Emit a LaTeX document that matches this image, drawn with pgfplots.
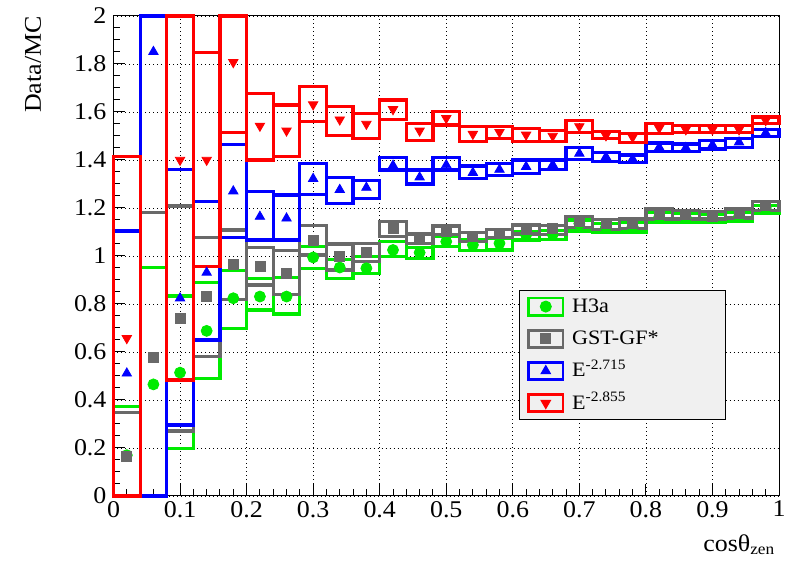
\documentclass[border=0pt]{standalone}
\usepackage{fontspec}
\setmainfont{Liberation Serif}[FakeStretch=1.08]
\usepackage{pgfplots}
\usepackage{pgfplotstable}
\pgfplotsset{compat=1.18}

\definecolor{cGreen}{RGB}{0,235,0}
\definecolor{cGray}{RGB}{105,105,105}
\definecolor{cBlue}{RGB}{0,0,255}
\definecolor{cRed}{RGB}{255,0,0}
\definecolor{legendbg}{RGB}{240,240,240}

% bin centre, lower and upper edge of the systematic box, data/MC value
\pgfplotstableread{
x lo hi val
0.02 0 0.372 0.17
0.06 0 0.953 0.465
0.10 0.199 0.833 0.514
0.14 0.49 0.89 0.688
0.18 0.699 0.938 0.824
0.22 0.775 0.907 0.831
0.26 0.758 0.910 0.831
0.30 0.949 1.039 0.994
0.34 0.907 0.985 0.952
0.38 0.928 0.997 0.949
0.42 0.997 1.062 1.025
0.46 0.990 1.036 1.014
0.50 1.039 1.080 1.060
0.54 1.022 1.070 1.046
0.58 1.025 1.075 1.053
0.62 1.067 1.100 1.087
0.66 1.070 1.105 1.090
0.70 1.104 1.150 1.135
0.74 1.097 1.135 1.120
0.78 1.100 1.140 1.122
0.82 1.140 1.180 1.162
0.86 1.140 1.178 1.160
0.90 1.142 1.175 1.158
0.94 1.144 1.180 1.165
0.98 1.179 1.210 1.200
}\tabGreen

\pgfplotstableread{
x lo hi val
0.02 0 0.349 0.164
0.06 0 1.182 0.578
0.10 0.271 1.208 0.740
0.14 0.581 1.078 0.833
0.18 0.820 1.108 0.965
0.22 0.879 1.036 0.958
0.26 0.838 1.022 0.928
0.30 1.004 1.128 1.067
0.34 0.942 1.050 1.000
0.38 0.976 1.053 1.014
0.42 1.081 1.143 1.115
0.46 1.053 1.092 1.074
0.50 1.088 1.125 1.101
0.54 1.060 1.097 1.081
0.58 1.076 1.111 1.095
0.62 1.092 1.129 1.111
0.66 1.090 1.128 1.114
0.70 1.120 1.165 1.144
0.74 1.110 1.151 1.134
0.78 1.116 1.154 1.134
0.82 1.154 1.196 1.172
0.86 1.154 1.190 1.172
0.90 1.154 1.186 1.165
0.94 1.158 1.196 1.176
0.98 1.190 1.228 1.210
}\tabGray

\pgfplotstableread{
x lo hi val
0.02 0 1.104 0.511
0.06 0 2.0 1.851
0.10 0.296 1.361 0.824
0.14 0.650 1.226 0.931
0.18 1.077 1.465 1.270
0.22 1.067 1.268 1.164
0.26 1.067 1.254 1.157
0.30 1.257 1.386 1.322
0.34 1.219 1.327 1.276
0.38 1.238 1.314 1.285
0.42 1.358 1.411 1.377
0.46 1.300 1.358 1.328
0.50 1.358 1.411 1.379
0.54 1.324 1.375 1.347
0.58 1.335 1.384 1.360
0.62 1.345 1.400 1.372
0.66 1.360 1.400 1.380
0.70 1.402 1.451 1.427
0.74 1.393 1.432 1.413
0.78 1.388 1.421 1.404
0.82 1.434 1.471 1.453
0.86 1.434 1.467 1.451
0.90 1.446 1.481 1.463
0.94 1.453 1.488 1.474
0.98 1.499 1.527 1.513
}\tabBlue

\pgfplotstableread{
x lo hi val
0.02 0 1.414 0.657
0.10 0.483 2.0 1.400
0.14 0.956 1.849 1.400
0.18 1.514 2.0 1.807
0.22 1.400 1.678 1.542
0.26 1.414 1.629 1.522
0.30 1.560 1.705 1.631
0.34 1.502 1.622 1.568
0.38 1.490 1.594 1.550
0.42 1.570 1.650 1.611
0.46 1.480 1.553 1.522
0.50 1.546 1.601 1.574
0.54 1.476 1.539 1.508
0.58 1.488 1.538 1.516
0.62 1.477 1.532 1.505
0.66 1.478 1.524 1.500
0.70 1.514 1.564 1.540
0.74 1.488 1.520 1.502
0.78 1.474 1.510 1.495
0.82 1.509 1.551 1.533
0.86 1.516 1.544 1.527
0.90 1.516 1.544 1.527
0.94 1.513 1.544 1.527
0.98 1.551 1.579 1.565
}\tabRed

\pgfplotsset{
  boxline/.style={line width=1.6pt, line cap=rect, line join=miter, fill=none},
  legboxed/.style={legend image code/.code={%
    \draw[#1, line width=1.4pt, line cap=rect, line join=miter] (0pt,-4.3pt) rectangle (17.2pt,4.3pt);
    \draw[##1] plot coordinates {(8.6pt,0pt)};}},
}

% one open rectangle per bin, 0.04 wide, from lo to hi
\newcommand\drawboxes[2]{%
  \pgfplotstablegetrowsof{#1}%
  \pgfmathtruncatemacro\lastrow{\pgfplotsretval-1}%
  \pgfplotsforeachungrouped \rowi in {0,...,\lastrow}{%
    \pgfplotstablegetelem{\rowi}{x}\of{#1}\let\bx\pgfplotsretval
    \pgfplotstablegetelem{\rowi}{lo}\of{#1}\let\blo\pgfplotsretval
    \pgfplotstablegetelem{\rowi}{hi}\of{#1}\let\bhi\pgfplotsretval
    \pgfmathsetmacro\bl{\bx-0.02}%
    \pgfmathsetmacro\br{\bx+0.02}%
    \edef\next{\noexpand\addplot[boxline,draw=#2,forget plot] coordinates {(\bl,\blo) (\br,\blo) (\br,\bhi) (\bl,\bhi) (\bl,\blo)};}%
    \next
  }%
}

\newcommand\lentry[1]{\makebox[72.8pt][l]{#1}}

\begin{document}
\begin{tikzpicture}
\begin{axis}[
  name=ax,
  scale only axis, width=332.75pt, height=240pt,
  xmin=0, xmax=1, ymin=0, ymax=2,
  clip=false,
  xtick={0,0.1,0.2,0.3,0.4,0.5,0.6,0.7,0.8,0.9,1},
  ytick={0,0.2,0.4,0.6,0.8,1,1.2,1.4,1.6,1.8,2},
  minor x tick num=4, minor y tick num=3,
  xtick pos=left, ytick pos=left,
  tick align=inside,
  major tick length=6pt, minor tick length=3.5pt,
  tick style={black, line width=0.5pt},
  axis line style={black, line width=0.5pt},
  grid=major,
  major grid style={black, line width=0.4pt, dash pattern=on 0.5pt off 1.5pt},
  /pgf/number format/assume math mode=true,
  ticklabel style={font=\fontsize{12pt}{14pt}\selectfont},
  xticklabel style={yshift=1pt},
  label style={font=\fontsize{12pt}{14pt}\selectfont},
  xlabel={cosθ\textsubscript{zen}},
  xlabel style={at={(axis description cs:0.995,-0.115)}, anchor=base east, inner sep=0pt},
  ylabel={Data/MC},
  ylabel style={at={(axis description cs:-0.121,1)}, anchor=east, inner sep=0pt},
  legend cell align=left,
  legend style={
    at={(axis description cs:0.6093,0.4292)}, anchor=north west,
    draw=black, line width=0.5pt, fill=legendbg,
    font=\fontsize{10.25pt}{12pt}\selectfont,
    inner xsep=3.85pt, inner ysep=0pt,
    row sep=0pt,
    nodes={inner sep=0pt, text height=11pt, text depth=5.1pt},
    /tikz/every odd column/.append style={column sep=3.85pt},
  },
]
\drawboxes{\tabGreen}{cGreen}
\addplot[only marks, mark=*, color=cGreen, mark size=2.75pt, legboxed=cGreen]
  table[x=x, y=val]{\tabGreen};
\addlegendentry{\lentry{H3a}}

\drawboxes{\tabGray}{cGray}
\addplot[only marks, mark=square*, color=cGray, mark size=2.5pt, legboxed=cGray]
  table[x=x, y=val]{\tabGray};
\addlegendentry{\lentry{GST-GF*}}

\drawboxes{\tabBlue}{cBlue}
\addplot[only marks, mark=triangle*, color=cBlue, mark size=2.7pt, legboxed=cBlue]
  table[x=x, y=val]{\tabBlue};
\addlegendentry{\lentry{E\textsuperscript{-2.715}}}

\drawboxes{\tabRed}{cRed}
\addplot[only marks, mark=triangle*, mark options={rotate=180}, color=cRed, mark size=2.7pt, legboxed=cRed]
  table[x=x, y=val]{\tabRed};
\addlegendentry{\lentry{E\textsuperscript{-2.855}}}
\end{axis}
\path (ax.south west) ++(-56.75pt,-34.5pt) coordinate (bbA);
\path (ax.north east) ++(4.5pt,8pt) coordinate (bbB);
\pgfresetboundingbox
\path[use as bounding box] (bbA) rectangle (bbB);
\end{tikzpicture}
\end{document}
